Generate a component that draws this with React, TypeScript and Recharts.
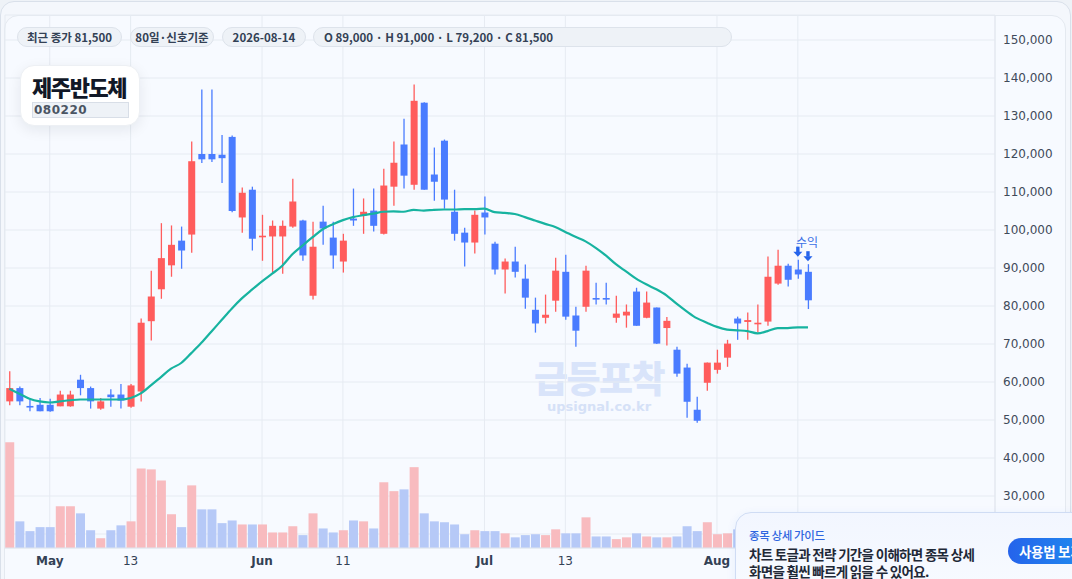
import React from 'react';
import {
  ComposedChart, Bar, Line, Scatter, XAxis, YAxis, CartesianGrid, Cell,
} from 'recharts';

// Daily candles, 80 trading days (2026-04-27 ~ 2026-08-14)
const opens = [
  54900, 58400, 53700, 54000, 54000, 53600, 53600, 60600, 58400, 53000,
  56700, 56700, 53500, 57500, 76000, 84400, 90700, 97200, 98800, 120000,
  120000, 119800, 124500, 103300, 110600, 98100, 98300, 98300, 100900, 102500,
  82700, 102200, 98000, 91700, 103000, 103800, 105100, 99000, 111400, 122500,
  111900, 133500, 114600, 123500, 104800, 99300, 96700, 104600, 96400, 89600,
  91700, 87200, 79000, 76900, 81400, 89000, 77500, 79800, 82100, 82100,
  76900, 77500, 83800, 76900, 79600, 74200, 68500, 63800, 52700, 59800,
  63200, 66400, 76700, 75800, 75400, 75900, 85900, 90600, 89600, 89000,
];
const highs = [
  62800, 58800, 55400, 55800, 55600, 57700, 57700, 61900, 58800, 55800,
  58100, 59500, 59500, 76700, 89300, 101800, 101200, 100900, 123300, 137000,
  137000, 125000, 124900, 111200, 111400, 104000, 102500, 102500, 113500, 102700,
  102200, 106400, 102200, 99000, 110900, 108300, 110900, 116100, 123300, 129300,
  138300, 133600, 121700, 123800, 110600, 100600, 105100, 108800, 96900, 92500,
  95600, 90900, 82200, 83000, 92700, 93500, 79800, 90600, 86100, 86100,
  82700, 80400, 84800, 83800, 79600, 77100, 69300, 64800, 56100, 65100,
  68500, 71100, 77200, 78300, 80400, 93000, 94800, 91100, 92200, 91000,
];
const lows = [
  53900, 53900, 52300, 52300, 52200, 53600, 53500, 56500, 53000, 52700,
  53500, 53000, 53200, 54900, 70900, 81900, 87700, 89800, 94000, 117600,
  117900, 112400, 104700, 99300, 94600, 91900, 88800, 88500, 100600, 91900,
  81700, 96100, 89800, 88800, 101100, 99000, 99600, 98800, 106400, 110900,
  110600, 110600, 107700, 105600, 97200, 90400, 93800, 98800, 88300, 83300,
  87500, 79300, 73000, 75400, 78500, 76400, 69300, 78500, 80400, 80400,
  75600, 74300, 74800, 76800, 70000, 69600, 61400, 50600, 49300, 57700,
  62200, 64000, 71100, 71100, 73000, 74800, 85600, 85100, 87200, 79200,
];
const closes = [
  58400, 54900, 53500, 52300, 52300, 56700, 56700, 58400, 54900, 54900,
  56000, 55100, 59100, 75600, 82500, 92600, 96100, 94600, 118100, 118600,
  118600, 118900, 105000, 109800, 97700, 98500, 101100, 101100, 107500, 93300,
  95600, 100400, 93300, 97200, 102500, 104800, 101100, 111700, 117700, 114300,
  134000, 110600, 112700, 108000, 99000, 96700, 104000, 103300, 89600, 91700,
  89000, 82200, 75400, 77700, 89300, 77200, 73500, 89300, 81700, 81800,
  78000, 78500, 74800, 80900, 70100, 76100, 62200, 54800, 49800, 65100,
  65100, 70100, 75400, 76300, 75600, 87700, 90600, 86900, 88300, 81500,
];
// volume, thousand shares
const volumes = [
  2380, 600, 380, 470, 470, 940, 940, 780, 400, 220,
  400, 510, 600, 1790, 1770, 1520, 760, 470, 1410, 870,
  870, 560, 620, 530, 530, 530, 350, 350, 490, 290,
  780, 440, 350, 400, 620, 600, 440, 1480, 1280, 1320,
  1820, 780, 600, 580, 530, 310, 400, 380, 380, 330,
  240, 290, 310, 290, 420, 330, 330, 690, 260, 260,
  200, 240, 330, 260, 240, 240, 260, 490, 380, 580,
  310, 330, 420, 360, 300, 690, 620, 540, 470, 580,
];
// 20-day moving average
const ma20 = [
  58200, 56900, 55600, 54900, 54600, 54900, 55200, 55400, 55400, 55400,
  55400, 55400, 55800, 57000, 59100, 61300, 63500, 65000, 67600, 70300,
  73300, 76300, 79300, 82000, 84300, 86500, 88500, 90600, 93600, 95900,
  98100, 100200, 101500, 102600, 103400, 103900, 104300, 104800, 104900, 104800,
  105300, 105100, 105300, 105400, 105400, 105500, 105500, 105600, 104700, 104500,
  104200, 103400, 102500, 101600, 100800, 99500, 98200, 97000, 95300, 93300,
  91000, 89100, 87200, 85700, 84400, 82800, 80600, 78600, 76800, 75600,
  74500, 73800, 73600, 73400, 72800, 73400, 74200, 74200, 74400, 74400,
];
const tickIndexes = [4, 12, 25, 33, 47, 55, 70, 78];
// last tick sits under the guide card, its label is not visible
const tickLabels = ['May', '13', 'Jun', '11', 'Jul', '13', 'Aug', ''];
const priceTicks = [20000, 30000, 40000, 50000, 60000, 70000, 80000, 90000, 100000, 110000, 120000, 130000, 140000, 150000];
const signalIndexes = [78, 79];

const RED = '#ff5c5c';
const BLUE = '#4a7cff';
const RED_VOL = '#f8bbbf';
const BLUE_VOL = '#b6c9f7';
const ARROW = '#2563eb';
const MA_COLOR = '#17b3a0';
const X_DOMAIN: [number, number] = [-0.425, 97.5];

const rows = opens.map((o, i) => ({
  i,
  open: o,
  high: highs[i],
  low: lows[i],
  close: closes[i],
  volume: volumes[i],
  ma: ma20[i],
}));
const signalRows = signalIndexes.map((i) => ({ i, high: highs[i] }));
const last = rows[rows.length - 1];

const fmt = (v: number) => v.toLocaleString('en-US');

const Candle = (props: any) => {
  const { x, y, width, height, payload } = props;
  if (!payload || height == null) return null;
  const { open, close, high, low } = payload;
  const color = close >= open ? RED : BLUE;
  const perPx = high === low ? 0 : height / (high - low);
  const toY = (p: number) => y + (high - p) * perPx;
  const cx = x + width / 2;
  const top = toY(Math.max(open, close));
  const bodyH = Math.max(1.6, toY(Math.min(open, close)) - top);
  return (
    <g>
      <line x1={cx} x2={cx} y1={y} y2={y + height} stroke={color} strokeWidth={1.3} />
      <rect x={x} y={top} width={width} height={bodyH} fill={color} />
    </g>
  );
};

const SignalArrow = (props: any) => {
  const { cx, cy, payload } = props;
  if (cx == null || cy == null) return null;
  const tip = cy - 3;
  return (
    <g>
      <rect x={cx - 1.7} y={tip - 10} width={3.4} height={5.5} fill={ARROW} />
      <polygon points={`${cx - 4.5},${tip - 5} ${cx + 4.5},${tip - 5} ${cx},${tip}`} fill={ARROW} />
      {payload.i === signalIndexes[signalIndexes.length - 1] && (
        <text x={cx - 1} y={cy - 17.5} textAnchor="middle" fontSize={12}
          fontFamily="'Noto Sans CJK KR', sans-serif" fill="#3b6fe6">
          수익
        </text>
      )}
    </g>
  );
};

const XTick = (props: any) => {
  const { x, y, payload } = props;
  const label = tickLabels[tickIndexes.indexOf(payload.value)];
  if (!label) return null;
  const isMonth = isNaN(Number(label));
  return (
    <text x={x} y={y} dy="0.71em" textAnchor="middle" fontSize={12}
      fontFamily="'DejaVu Sans', sans-serif" fontWeight={isMonth ? 700 : 400} fill="#334155">
      {label}
    </text>
  );
};

const chip: React.CSSProperties = {
  position: 'absolute',
  top: 27,
  height: 20,
  lineHeight: '19px',
  boxSizing: 'border-box',
  background: '#eef2f7',
  border: '1px solid #dde3eb',
  borderRadius: 10,
  fontSize: 11.5,
  fontWeight: 600,
  color: '#334155',
  textAlign: 'center',
  whiteSpace: 'nowrap',
};

const kr = "'Noto Sans CJK KR', 'Noto Sans', sans-serif";

export default function App() {
  return (
    <div style={{ position: 'absolute', left: 0, top: 0, width: 1072, height: 579, overflow: 'hidden', background: '#eef2f7', fontFamily: kr }}>
      <div style={{ position: 'absolute', left: 0, top: 1, width: 1071, height: 620, borderRadius: 14, background: '#f4f7fc', border: '1px solid #d9e0ea', boxSizing: 'border-box' }} />
      <div style={{ position: 'absolute', left: 4, top: 15, width: 1062, height: 620, borderRadius: 14, background: '#f7faff', border: '1px solid #e4e9f0', boxSizing: 'border-box' }} />

      <div style={{ position: 'absolute', left: 499, top: 356, width: 200, textAlign: 'center', fontSize: 37, fontWeight: 800, color: '#d9e4fa', lineHeight: '42px', letterSpacing: -1.5 }}>
        급등포착
      </div>
      <div style={{ position: 'absolute', left: 499, top: 399, width: 200, textAlign: 'center', fontSize: 13, fontWeight: 700, color: '#d5e1f7', lineHeight: '16px', fontFamily: "'DejaVu Sans', sans-serif" }}>
        upsignal.co.kr
      </div>

      <div style={{ position: 'absolute', left: 0, top: 0 }}>
        <ComposedChart width={1072} height={579} data={rows} margin={{ top: 15, right: 7, left: 5, bottom: 0 }}>
          <CartesianGrid xAxisId="price" yAxisId="price" stroke="#e6ebf2" />
          <XAxis xAxisId="price" dataKey="i" type="number" domain={X_DOMAIN} allowDataOverflow
            ticks={tickIndexes} interval={0} height={31} tickLine={false}
            axisLine={{ stroke: '#dfe5ee' }} tick={<XTick />} />
          <XAxis xAxisId="vol" dataKey="i" type="number" domain={X_DOMAIN} allowDataOverflow hide />
          <YAxis yAxisId="price" orientation="right" width={70} domain={[16316, 156579]} allowDataOverflow
            ticks={priceTicks} interval={0} tickLine={false} axisLine={{ stroke: '#e2e7ee' }}
            tickFormatter={fmt}
            tick={{ fontSize: 12, fill: '#3f4a5a', fontFamily: "'DejaVu Sans', sans-serif" }} />
          <YAxis yAxisId="vol" domain={[0, 12000]} allowDataOverflow hide />
          <Bar xAxisId="vol" yAxisId="vol" dataKey="volume" barSize={9} isAnimationActive={false}>
            {rows.map((r) => (
              <Cell key={r.i} fill={r.close >= r.open ? RED_VOL : BLUE_VOL} />
            ))}
          </Bar>
          <Line xAxisId="price" yAxisId="price" dataKey="ma" type="monotone" stroke={MA_COLOR}
            strokeWidth={2.2} dot={false} activeDot={false} isAnimationActive={false} />
          <Bar xAxisId="price" yAxisId="price" dataKey={(d: any) => [d.low, d.high]} barSize={7}
            shape={<Candle />} isAnimationActive={false} />
          <Scatter xAxisId="price" yAxisId="price" data={signalRows} dataKey="high"
            shape={<SignalArrow />} isAnimationActive={false} />
        </ComposedChart>
      </div>

      <div style={{ ...chip, left: 17, width: 105 }}>최근 종가 {fmt(last.close)}</div>
      <div style={{ ...chip, left: 130, width: 84 }}>80일·신호기준</div>
      <div style={{ ...chip, left: 222, width: 84 }}>2026-08-14</div>
      <div style={{ ...chip, left: 313, width: 419, textAlign: 'left', paddingLeft: 10 }}>
        O {fmt(last.open)} · H {fmt(last.high)} · L {fmt(last.low)} · C {fmt(last.close)}
      </div>

      <div style={{ position: 'absolute', left: 20, top: 65, width: 120, height: 61, boxSizing: 'border-box', background: '#ffffff', border: '1px solid #edf0f4', borderRadius: 14, boxShadow: '0 4px 14px rgba(15,23,42,0.08)' }}>
        <div style={{ position: 'absolute', left: 11, top: 5, fontSize: 22, fontWeight: 800, color: '#111827', lineHeight: '30px', letterSpacing: -1.4, whiteSpace: 'nowrap' }}>
          제주반도체
        </div>
        <div style={{ position: 'absolute', left: 11, top: 36, width: 97, height: 16, boxSizing: 'border-box', background: '#eef2f7', border: '1px solid #d8dee7', fontSize: 12, fontWeight: 700, color: '#4b5563', lineHeight: '14px', letterSpacing: 0.5, paddingLeft: 1, fontFamily: "'DejaVu Sans', sans-serif" }}>
          080220
        </div>
      </div>

      <div style={{ position: 'absolute', left: 735, top: 512, width: 400, height: 90, boxSizing: 'border-box', borderRadius: 16, background: 'linear-gradient(180deg, #f2f6ff 0%, #f8fbff 100%)', border: '1px solid #cfdcf4', boxShadow: '0 2px 10px rgba(37,99,235,0.08)' }}>
        <div style={{ position: 'absolute', left: 13, top: 14, fontSize: 11.5, fontWeight: 500, color: '#2f66e0', lineHeight: '16px', letterSpacing: -0.4, whiteSpace: 'nowrap' }}>
          종목 상세 가이드
        </div>
        <div style={{ position: 'absolute', left: 13, top: 33, fontSize: 13.5, fontWeight: 700, color: '#1f2937', lineHeight: '17px', letterSpacing: -0.7, whiteSpace: 'nowrap' }}>
          차트 토글과 전략 기간을 이해하면 종목 상세
        </div>
        <div style={{ position: 'absolute', left: 13, top: 51, fontSize: 13.5, fontWeight: 700, color: '#1f2937', lineHeight: '15px', letterSpacing: -0.7, whiteSpace: 'nowrap' }}>
          화면을 훨씬 빠르게 읽을 수 있어요.
        </div>
        <div style={{ position: 'absolute', left: 272, top: 25, width: 110, height: 26, borderRadius: 13, background: 'linear-gradient(90deg, #2563eb 0%, #1e9bf0 100%)', color: '#ffffff', fontSize: 13.5, fontWeight: 600, lineHeight: '26px', paddingLeft: 11, boxSizing: 'border-box', whiteSpace: 'nowrap', letterSpacing: -0.3 }}>
          사용법 보기
        </div>
      </div>
    </div>
  );
}
